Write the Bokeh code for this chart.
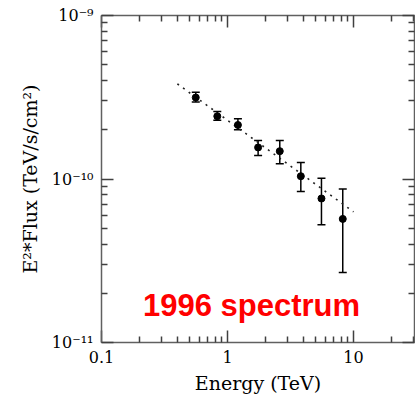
from bokeh.plotting import figure
from bokeh.models import (ColumnDataSource, Whisker, TeeHead, LogAxis, FixedTicker,
                          CustomJSTickFormatter, Label, Range1d)
from bokeh.embed import file_html
from bokeh.resources import INLINE

# ---- data ----
energy = [0.56, 0.83, 1.21, 1.75, 2.60, 3.82, 5.57, 8.22]
flux = [3.15e-10, 2.42e-10, 2.14e-10, 1.56e-10, 1.48e-10, 1.04e-10, 7.6e-11, 5.7e-11]
flux_hi = [3.39e-10, 2.59e-10, 2.34e-10, 1.72e-10, 1.72e-10, 1.26e-10, 1.01e-10, 8.7e-11]
flux_lo = [2.96e-10, 2.29e-10, 2.00e-10, 1.39e-10, 1.24e-10, 8.4e-11, 5.25e-11, 2.68e-11]
fit_energy = [0.40, 10.0]
fit_flux = [3.82e-10, 6.3e-11]

x_major = [0.1, 1, 10]
x_minor = [0.2, 0.3, 0.4, 0.5, 0.6, 0.7, 0.8, 0.9, 2, 3, 4, 5, 6, 7, 8, 9, 20, 30]
y_major = [1e-11, 1e-10, 1e-9]
y_minor = [2e-11, 3e-11, 4e-11, 5e-11, 6e-11, 7e-11, 8e-11, 9e-11,
           2e-10, 3e-10, 4e-10, 5e-10, 6e-10, 7e-10, 8e-10, 9e-10]

title_text = "1996 spectrum"
x_label = "Energy (TeV)"
y_label = "E\u00b2*Flux (TeV/s/cm\u00b2)"

SERIF = "DejaVu Serif"
AX_COL = "#606060"
TICK_COL = "#404040"

p = figure(width=415, height=398, x_axis_type="log", y_axis_type="log",
           x_range=Range1d(0.1, 30.5), y_range=Range1d(1e-11, 1e-9),
           output_backend="svg", toolbar_location=None,
           min_border_left=101, min_border_right=1, min_border_top=15, min_border_bottom=56)
p.outline_line_color = None
p.xgrid.visible = False
p.ygrid.visible = False
p.background_fill_color = "white"
p.border_fill_color = "white"

src = ColumnDataSource(dict(energy=energy, flux=flux, hi=flux_hi, lo=flux_lo))

# fit line
p.line(fit_energy, fit_flux, line_color="#222222", line_width=1.6, line_dash="2 5")

# error bars
wh = Whisker(source=src, base="energy", upper="hi", lower="lo", dimension="height",
             line_color="black", line_width=1.5,
             upper_head=TeeHead(size=8, line_color="black", line_width=1.5),
             lower_head=TeeHead(size=8, line_color="black", line_width=1.5))
p.add_layout(wh)
p.scatter("energy", "flux", source=src, size=7, color="black")

xfmt = CustomJSTickFormatter(code="return tick < 1 ? tick.toFixed(1) : tick.toFixed(0);")
yfmt = CustomJSTickFormatter(code="""
const sup = {'-':'\u207b','0':'\u2070','1':'\u00b9','2':'\u00b2','3':'\u00b3','4':'\u2074',
             '5':'\u2075','6':'\u2076','7':'\u2077','8':'\u2078','9':'\u2079'};
const e = Math.round(Math.log10(tick));
return '10' + String(e).split('').map(c => sup[c]).join('');
""")
blank = CustomJSTickFormatter(code="return '';")

def style(ax, labels=True):
    ax.axis_line_color = AX_COL
    ax.axis_line_width = 1.5
    ax.major_tick_in = 12
    ax.major_tick_out = 0
    ax.minor_tick_in = 6
    ax.minor_tick_out = 0
    ax.major_tick_line_color = TICK_COL
    ax.minor_tick_line_color = TICK_COL
    ax.major_tick_line_width = 1.5
    ax.minor_tick_line_width = 1.5
    if labels:
        ax.major_label_text_font = SERIF
        ax.major_label_text_font_size = "16px"
        ax.major_label_text_color = "black"
        ax.major_label_standoff = 8
        ax.axis_label_text_font = SERIF
        ax.axis_label_text_font_style = "normal"
        ax.axis_label_text_font_size = "19px"
        ax.axis_label_text_color = "black"
    else:
        ax.major_label_text_font_size = "0px"
        ax.major_label_standoff = 0

xt = FixedTicker(ticks=x_major, minor_ticks=x_minor)
yt = FixedTicker(ticks=y_major, minor_ticks=y_minor)

xa = p.xaxis[0]
xa.ticker = xt
xa.formatter = xfmt
xa.axis_label = x_label
style(xa)
xa.axis_label_standoff = 6

ya = p.yaxis[0]
ya.ticker = yt
ya.formatter = yfmt
ya.axis_label = y_label
style(ya)
ya.axis_label_standoff = 8

top = LogAxis(ticker=FixedTicker(ticks=x_major, minor_ticks=x_minor), formatter=blank)
style(top, labels=False)
p.add_layout(top, "above")
right = LogAxis(ticker=FixedTicker(ticks=y_major, minor_ticks=y_minor), formatter=blank)
style(right, labels=False)
p.add_layout(right, "right")

p.add_layout(Label(x=1.55, y=1.68e-11, text=title_text, text_align="center",
                   text_baseline="alphabetic", text_color="#ff0000",
                   text_font="Liberation Sans", text_font_style="bold",
                   text_font_size="31px"))

open("out.html", "w").write(file_html(p, INLINE))
